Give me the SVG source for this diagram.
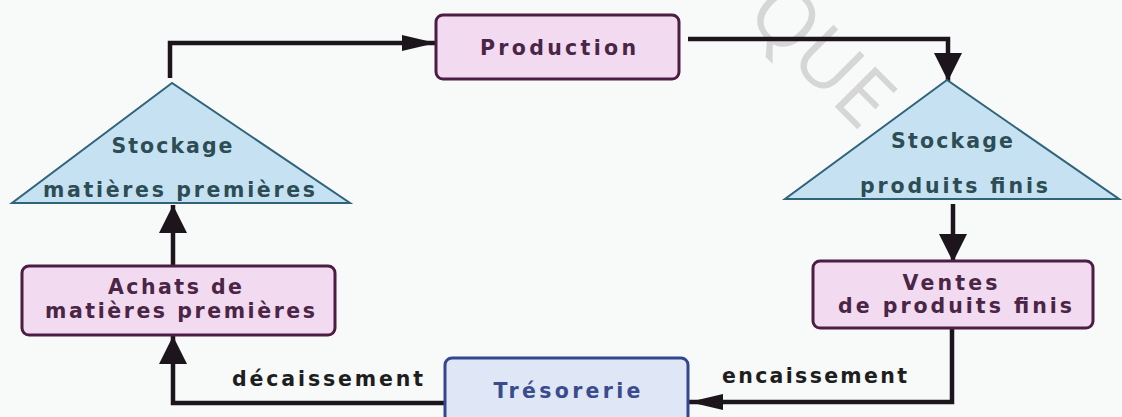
<svg xmlns="http://www.w3.org/2000/svg" width="1122" height="417" viewBox="0 0 1122 417">
  <style>
    .t { font-family: "DejaVu Sans", "Liberation Sans", sans-serif; font-weight: bold; font-size: 20.5px; text-anchor: middle; }
    .pink { fill: #f2daf0; stroke: #4d1d44; stroke-width: 3; }
    .pinkT { fill: #4a2545; }
    .tri { fill: #c6e2f2; stroke: #2f6479; stroke-width: 2; stroke-linejoin: miter; }
    .triT { fill: #2d4d55; }
    .blue { fill: #dfe6f6; stroke: #34468f; stroke-width: 3; }
    .blueT { fill: #3a4b8e; }
    .lbl { fill: #1e1e1e; text-anchor: start; }
    .conn { fill: none; stroke: #1c161c; stroke-width: 4.5; stroke-linejoin: miter; }
    .wm { font-family: "Open Sans", "DejaVu Sans", sans-serif; font-weight: normal; font-size: 80px; fill: #d6d6d6; }
  </style>
  <defs>
    <marker id="ahH" markerUnits="userSpaceOnUse" markerWidth="36" markerHeight="18" refX="34" refY="9" orient="auto">
      <path d="M0,1 L34,9 L0,17 Z" fill="#1c161c"/>
    </marker>
    <marker id="ahV" markerUnits="userSpaceOnUse" markerWidth="30" markerHeight="30" refX="28" refY="15" orient="auto">
      <path d="M0,1 L28,15 L0,29 Z" fill="#1c161c"/>
    </marker>
  </defs>
  <rect x="0" y="0" width="1122" height="417" fill="#f8f9f9"/>

  <text class="wm" transform="translate(744,16) rotate(45)">QUE</text>

  <g id="connectors">
    <path class="conn" d="M170,78 V43 H436" marker-end="url(#ahH)"/>
    <path class="conn" d="M688,39 H948 V81" marker-end="url(#ahV)"/>
    <path class="conn" d="M953,204 V262" marker-end="url(#ahV)"/>
    <path class="conn" d="M952,328 V402 H689" marker-end="url(#ahH)"/>
    <path class="conn" d="M445,403 H173 V336" marker-end="url(#ahV)"/>
    <path class="conn" d="M173,266 V205" marker-end="url(#ahV)"/>
  </g>

  <g id="production">
    <rect class="pink" x="436" y="15" width="243" height="64" rx="7"/>
    <text class="t pinkT" x="558" y="55" textLength="156" lengthAdjust="spacing">Production</text>
  </g>

  <g id="stockage-mp">
    <polygon class="tri" points="172,83 12,203 350,203"/>
    <text class="t triT" x="172" y="153" textLength="121" lengthAdjust="spacing">Stockage</text>
    <text class="t triT" x="179" y="197" textLength="272" lengthAdjust="spacing">matières premières</text>
  </g>

  <g id="stockage-pf">
    <polygon class="tri" points="947,80 785,199 1119,199"/>
    <text class="t triT" x="952" y="148" textLength="122" lengthAdjust="spacing">Stockage</text>
    <text class="t triT" x="954" y="193" textLength="188" lengthAdjust="spacing">produits finis</text>
  </g>

  <g id="achats">
    <rect class="pink" x="22" y="266" width="313" height="69" rx="7"/>
    <text class="t pinkT" x="175" y="294" textLength="134" lengthAdjust="spacing">Achats de</text>
    <text class="t pinkT" x="180" y="318" textLength="270" lengthAdjust="spacing">matières premières</text>
  </g>

  <g id="ventes">
    <rect class="pink" x="813" y="261" width="280" height="67" rx="7"/>
    <text class="t pinkT" x="950" y="290" textLength="95" lengthAdjust="spacing">Ventes</text>
    <text class="t pinkT" x="955" y="313" textLength="234" lengthAdjust="spacing">de produits finis</text>
  </g>

  <g id="tresorerie">
    <rect class="blue" x="445" y="358" width="243" height="72" rx="7"/>
    <text class="t blueT" x="567" y="398" textLength="147" lengthAdjust="spacing">Trésorerie</text>
  </g>

  <g id="labels">
    <text class="t lbl" x="232" y="386" textLength="191" lengthAdjust="spacing">décaissement</text>
    <text class="t lbl" x="722" y="383" textLength="185" lengthAdjust="spacing">encaissement</text>
  </g>
</svg>
